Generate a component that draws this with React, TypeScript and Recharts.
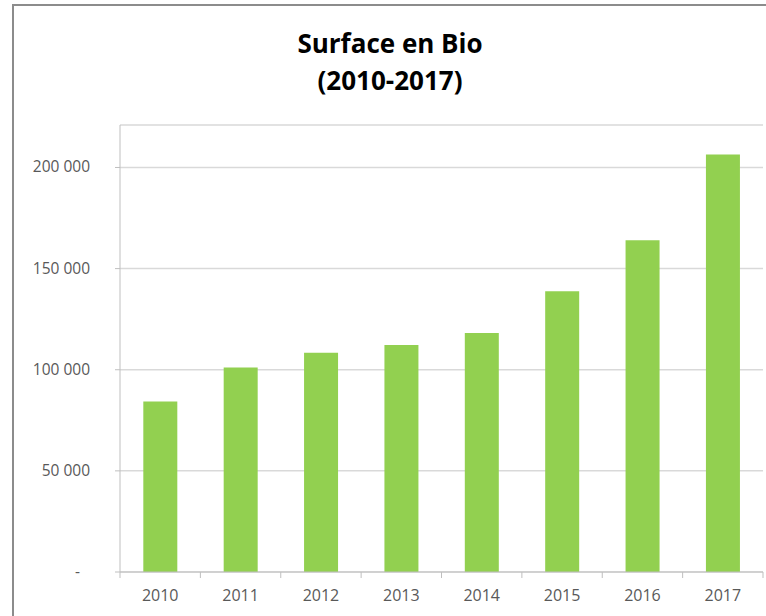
import * as React from 'react';
import { Bar, BarChart, CartesianGrid, XAxis, YAxis } from 'recharts';

const years = ['2010', '2011', '2012', '2013', '2014', '2015', '2016', '2017'];
const surface = [84300, 101100, 108400, 112200, 118200, 138800, 164000, 206400];
const yTicks = [0, 50000, 100000, 150000, 200000];

const data = years.map((year, i) => ({ year, surface: surface[i] }));

const font = '"Open Sans", sans-serif';
const textColor = '#595959';
const axisColor = '#bfbfbf';

const fmt = (v: number) =>
  v === 0 ? '-' : String(v).replace(/\B(?=(\d{3})+(?!\d))/g, ' ');

function YearTick(props: any) {
  const { x, y, payload } = props;
  const off = payload.offset || 0;
  const last = payload.index === years.length - 1;
  return (
    <g>
      <line x1={x - off} x2={x - off} y1={y} y2={y + 6} stroke={axisColor} />
      {last && <line x1={x + off} x2={x + off} y1={y} y2={y + 6} stroke={axisColor} />}
      <text x={x} y={y + 29} textAnchor="middle" fill={textColor} fontSize={16} fontFamily={font}>
        {payload.value}
      </text>
    </g>
  );
}

function ValueTick(props: any) {
  const { x, y, payload } = props;
  const zero = payload.value === 0;
  return (
    <text
      x={zero ? x - 10 : x}
      y={y}
      dy={5}
      textAnchor="end"
      fill={textColor}
      fontSize={15.5}
      fontFamily={font}
    >
      {fmt(payload.value)}
    </text>
  );
}

export default function App() {
  return (
    <div
      style={{
        position: 'absolute',
        left: 0,
        top: 0,
        width: 766,
        height: 616,
        overflow: 'hidden',
        background: '#fff',
      }}
    >
      <div
        style={{
          position: 'absolute',
          left: 12,
          top: 4,
          width: 800,
          height: 700,
          borderLeft: '2px solid #8c8c8c',
          borderTop: '2px solid #8c8c8c',
        }}
      />
      <div
        style={{
          position: 'absolute',
          left: 7,
          top: 25,
          width: 766,
          textAlign: 'center',
          fontFamily: font,
          fontWeight: 700,
          fontSize: 26,
          lineHeight: '37px',
          color: '#000',
        }}
      >
        Surface en Bio
        <br />
        (2010-2017)
      </div>
      <BarChart
        width={766}
        height={616}
        data={data}
        margin={{ top: 125, right: 3, bottom: 0, left: 0 }}
        barCategoryGap="29%"
        style={{ position: 'absolute', left: 0, top: 0 }}
      >
        <CartesianGrid vertical={false} stroke="#d9d9d9" strokeWidth={1.5} />
        <XAxis
          dataKey="year"
          height={44}
          stroke={axisColor}
          tickLine={false}
          tickSize={0}
          tickMargin={0}
          tick={<YearTick />}
          interval={0}
        />
        <YAxis
          width={120}
          domain={[0, 221000]}
          ticks={yTicks}
          stroke={axisColor}
          tickSize={5}
          tickMargin={25}
          tick={<ValueTick />}
          interval={0}
        />
        <Bar dataKey="surface" fill="#92d050" isAnimationActive={false} />
      </BarChart>
    </div>
  );
}
